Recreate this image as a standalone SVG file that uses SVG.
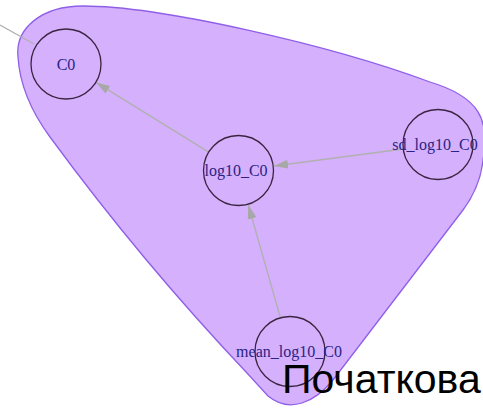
<svg xmlns="http://www.w3.org/2000/svg" width="483" height="408" viewBox="0 0 483 408">
<defs>
<style>
.hull{fill:#d5b0fc;stroke:#8f5fe8;stroke-width:1.3}
.node circle{fill:none;stroke:#3a2440;stroke-width:1.3}
.node text{font-family:"Liberation Serif","Times New Roman",serif;font-size:16px;fill:#2a2385;text-anchor:middle}
.edge{stroke:#b0b0b0;stroke-width:1.3;fill:none}
.title{font-family:"Liberation Sans",Arial,sans-serif;font-size:41px;fill:#000}
</style>
<marker id="arr" markerUnits="userSpaceOnUse" markerWidth="15" markerHeight="10" refX="14" refY="4.5" orient="auto">
<path d="M0,0 L14,4.5 L0,9 z" fill="#a8a8a8"/>
</marker>
</defs>
<rect width="483" height="408" fill="#ffffff"/>
<path class="hull" d="M18,57 C15,28 42,6 83,6 C160,6 330,45 430,82 C480,97 490,120 483,160 C481,180 474,195 463,210 L333,380 C315,402 290,414 268,396 L247,373 Q141,261 50,137 C36,118 20,90 18,57 Z"/>
<g id="connectors">
<line class="edge" x1="0" y1="25" x2="34" y2="44"/>
<line class="edge" x1="208.7" y1="152.1" x2="96" y2="82.4" marker-end="url(#arr)"/>
<line class="edge" x1="403" y1="149" x2="274" y2="166" marker-end="url(#arr)"/>
<line class="edge" x1="280.4" y1="317.8" x2="248.3" y2="205" marker-end="url(#arr)"/>
</g>
<g id="node-C0" class="node">
<circle cx="66" cy="64" r="35"/>
<text x="66" y="70">C0</text>
</g>
<g id="node-log10_C0" class="node">
<circle cx="238.5" cy="170.5" r="35"/>
<text x="236" y="176">log10_C0</text>
</g>
<g id="node-sd_log10_C0" class="node">
<circle cx="438" cy="144.5" r="35"/>
<text x="435" y="150">sd_log10_C0</text>
</g>
<g id="node-mean_log10_C0" class="node">
<circle cx="290" cy="351.5" r="35"/>
<text x="289" y="357">mean_log10_C0</text>
</g>
<text class="title" x="282" y="393">Початкова</text>
</svg>
